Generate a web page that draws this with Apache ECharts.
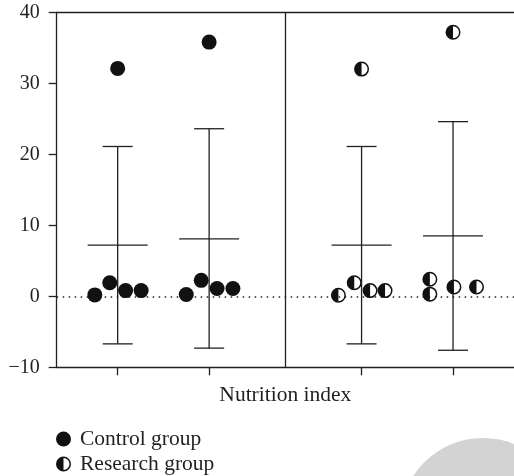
<!DOCTYPE html>
<html>
<head>
<meta charset="utf-8">
<script src="https://cdn.jsdelivr.net/npm/echarts@6/dist/echarts.min.js"></script>
<style>
  html, body { margin: 0; padding: 0; background: #ffffff; }
  #chart { width: 514px; height: 476px; }
</style>
</head>
<body>
<div id="chart"></div>
<script>
// ---- Data ----
const groupX = [2, 5, 10, 13];          // category positions on the x scale
const dividerX = 7.5;                   // vertical divider between panels
const means = [7.2, 8.1, 7.2, 8.5];
const upperSD = [21.1, 23.6, 21.1, 24.6];
const lowerSD = [-6.7, -7.3, -6.7, -7.6];
const yTicks = [-10, 0, 10, 20, 30, 40];

const controlPoints = [
  [1.25, 0.2], [1.74, 1.9], [2.26, 0.8], [2.77, 0.8], [2.0, 32.1],
  [4.25, 0.25], [4.74, 2.25], [5.26, 1.1], [5.78, 1.1], [5.0, 35.8]
];
const researchPoints = [
  [9.24, 0.15], [9.76, 1.9], [10.28, 0.8], [10.77, 0.8], [10.0, 32.0],
  [12.24, 2.4], [12.24, 0.3], [13.03, 1.3], [13.77, 1.3], [13.0, 37.2]
];

const INK = '#231f20';
const FONT = '"Liberation Serif", "DejaVu Serif", serif';
const HALF = 'path://M50,0A50,50,0,1,1,50,100A50,50,0,1,1,50,0ZM50,90A40,40,0,0,0,50,10Z';

const errData = groupX.map((x, i) => [x, means[i], lowerSD[i], upperSD[i]]);

const chart = echarts.init(document.getElementById('chart'), null, { renderer: 'canvas' });

chart.setOption({
  backgroundColor: '#ffffff',
  animation: false,
  graphic: [{
    type: 'circle', z: -10, silent: true,
    shape: { cx: 483, cy: 521, r: 83 },
    style: { fill: '#d3d3d3' }
  }],
  grid: { left: 56.7, right: -2.9, top: 12.3, bottom: 108.7 },
  legend: {
    orient: 'vertical', left: 56, top: 428, height: 48, padding: 0,
    itemWidth: 15, itemHeight: 15, itemGap: 3,
    data: ['Control group', 'Research group'],
    textStyle: { fontFamily: FONT, fontSize: 21.5, color: INK, padding: [0, 0, 0, 4] },
    selectedMode: false
  },
  xAxis: [{
    type: 'value', min: 0, max: 15,
    name: 'Nutrition index', nameLocation: 'middle', nameGap: 17,
    nameTextStyle: { fontFamily: FONT, fontSize: 21.5, color: INK },
    axisLine: { show: true, onZero: false, lineStyle: { color: INK, width: 1.3 } },
    axisTick: { show: true, customValues: groupX, length: 8, lineStyle: { color: INK, width: 1.3 } },
    axisLabel: { show: false },
    splitLine: { show: false }
  }, {
    type: 'value', min: 0, max: 15, position: 'top',
    axisLine: { show: true, onZero: false, lineStyle: { color: INK, width: 1.3 } },
    axisTick: { show: false }, axisLabel: { show: false }, splitLine: { show: false }
  }],
  yAxis: {
    type: 'value', min: -10, max: 40, interval: 10,
    axisLine: { show: true, onZero: false, lineStyle: { color: INK, width: 1.3 } },
    axisTick: { show: true, length: 8, lineStyle: { color: INK, width: 1.3 } },
    axisLabel: {
      margin: 17, fontFamily: FONT, fontSize: 20, color: INK,
      formatter: v => String(v).replace('-', '\u2212')
    },
    splitLine: { show: false }
  },
  series: [
    {
      type: 'custom', name: 'sd', z: 2, silent: true,
      data: errData,
      renderItem: function (params, api) {
        const x = api.value(0);
        const c = api.coord([x, api.value(1)]);
        const lo = api.coord([x, api.value(2)]);
        const hi = api.coord([x, api.value(3)]);
        const st = { stroke: INK, lineWidth: 1.3 };
        return {
          type: 'group',
          children: [
            { type: 'line', shape: { x1: lo[0], y1: lo[1], x2: hi[0], y2: hi[1] }, style: st },
            { type: 'line', shape: { x1: hi[0] - 15, y1: hi[1], x2: hi[0] + 15, y2: hi[1] }, style: st },
            { type: 'line', shape: { x1: lo[0] - 15, y1: lo[1], x2: lo[0] + 15, y2: lo[1] }, style: st },
            { type: 'line', shape: { x1: c[0] - 30, y1: c[1], x2: c[0] + 30, y2: c[1] }, style: st }
          ]
        };
      },
      markLine: {
        silent: true, symbol: 'none', label: { show: false },
        data: [
          { xAxis: dividerX, lineStyle: { color: INK, width: 1.3, type: 'solid' } },
          { yAxis: 0, lineStyle: { color: INK, width: 1.5, type: [1.5, 4.5] } }
        ]
      }
    },
    {
      type: 'scatter', name: 'Control group', z: 5,
      symbol: 'circle', symbolSize: 15,
      itemStyle: { color: '#111111', opacity: 1 },
      data: controlPoints
    },
    {
      type: 'scatter', name: 'research-bg', z: 4, silent: true,
      symbol: 'circle', symbolSize: 14,
      itemStyle: { color: '#ffffff', opacity: 1 },
      data: researchPoints
    },
    {
      type: 'scatter', name: 'Research group', z: 5,
      symbol: HALF, symbolSize: 15,
      itemStyle: { color: '#111111', opacity: 1 },
      data: researchPoints
    }
  ]
});
</script>
</body>
</html>
